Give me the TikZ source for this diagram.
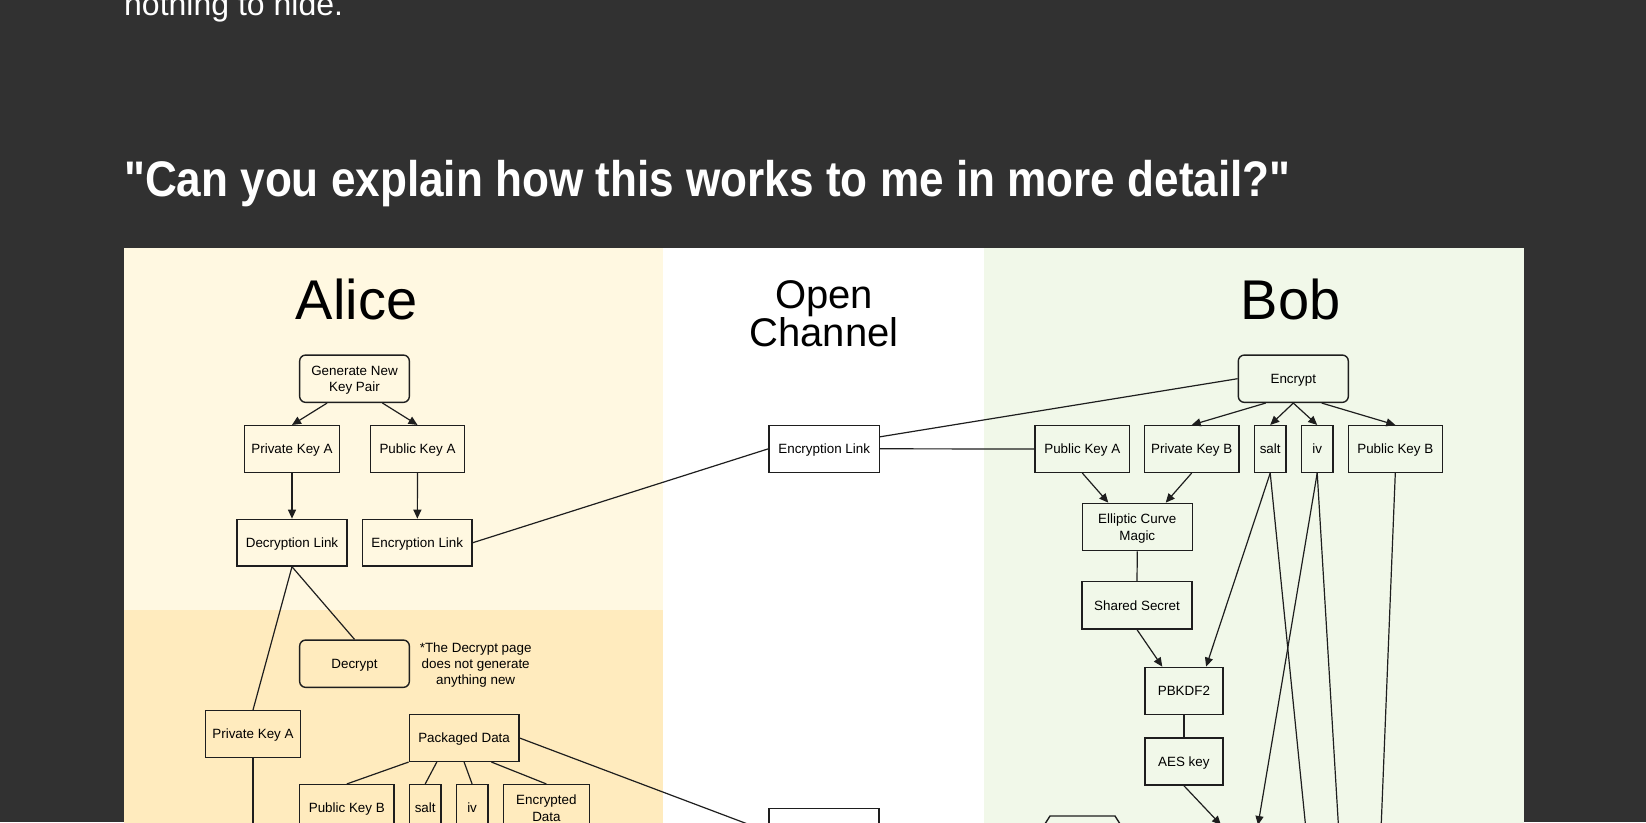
\documentclass[tikz,border=0pt]{standalone}
\usepackage{fontspec}
\setmainfont{Liberation Sans}
\usetikzlibrary{arrows.meta,calc}
\definecolor{bgdark}{HTML}{313131}
\definecolor{alicetop}{HTML}{FFF8E1}
\definecolor{alicebot}{HTML}{FFEBBE}
\definecolor{bobbg}{HTML}{F1F8E9}
\definecolor{ink}{HTML}{1E1E1E}
\begin{document}
\begin{tikzpicture}[x=1pt,y=-1pt,
  box/.style={draw=ink,line width=1.4pt,inner sep=0pt,minimum height=46.7pt,align=center,font=\fontsize{13.4}{16.5}\selectfont,text=black,text height=9.6pt,text depth=0pt},
  multi/.style={text height=26.1pt,text depth=0pt},
  rbox/.style={box,rounded corners=6pt,minimum height=47.3pt},
  conn/.style={draw=ink,line width=1.2pt},
  arr/.style={conn,-{Triangle[length=9pt,width=8pt]}},
  title/.style={anchor=base,inner sep=0pt,font=\fontsize{56}{60}\selectfont,text=black},
  otitle/.style={anchor=base,inner sep=0pt,font=\fontsize{40}{40}\selectfont,text=black},
  note/.style={align=center,inner sep=0pt,font=\fontsize{13.4}{16}\selectfont,text=black}
]
\useasboundingbox (0,0) rectangle (1646,822);
\clip (0,0) rectangle (1646,822);
\fill[bgdark] (0,0) rectangle (1646,822);

% text above
\node[anchor=base west,inner sep=0pt,text=white,font=\fontsize{32}{36}\selectfont] (prev) at (124,15) {nothing to hide.};
\node[anchor=base west,inner sep=0pt,text=white,font=\bfseries\fontsize{50}{56}\selectfont] (heading) at (123.9,196) {\scalebox{0.882}[1]{\textquotedbl Can you explain how this works to me in more detail?\textquotedbl}};

% panels
\fill[alicetop] (123.9,247.5) rectangle (663.3,610);
\fill[alicebot] (123.9,610) rectangle (663.3,840);
\fill[white] (663.3,247.5) rectangle (984.2,840);
\fill[bobbg] (984.2,247.5) rectangle (1524,840);

% titles
\node[title] (alicet) at (356.6,319.3) {Alice};
\node[title] (bobt) at (1290.8,319.3) {Bob};
\node[otitle] (opent) at (824,308.3) {Open};
\node[otitle] (chant) at (824,346) {Channel};

% Alice
\node[rbox,multi,minimum width=109.7pt] (gen) at (354.5,378.7) {Generate New\\Key Pair};
\node[box,minimum width=94.7pt] (privA) at (292,449) {Private Key A};
\node[box,minimum width=94.2pt] (pubA) at (417.5,449) {Public Key A};
\node[box,minimum width=109.7pt] (decl) at (292,542.7) {Decryption Link};
\node[box,minimum width=109.6pt] (encl) at (417.3,542.7) {Encryption Link};
\node[rbox,minimum width=109.7pt] (decrypt) at (354.5,663.7) {Decrypt};
\node[note] (dnote) at (475.7,665) {*The Decrypt page\\does not generate\\anything new};
\node[box,minimum width=94.7pt] (privA2) at (253,734) {Private Key A};
\node[box,minimum width=109.6pt] (pkd) at (464.1,738) {Packaged Data};
\node[box,minimum width=94.3pt] (apkb) at (346.8,808) {Public Key B};
\node[box,minimum width=31.8pt] (asalt) at (425.2,808) {salt};
\node[box,minimum width=31.5pt] (aiv) at (472.1,808) {iv};
\node[box,multi,minimum width=86.4pt] (aencd) at (546.4,808) {Encrypted\\Data};
\coordinate (pkaend) at (253,840);

% Open channel
\node[box,minimum width=110.3pt,minimum height=47pt] (oenc) at (824.2,448.8) {Encryption Link};
\node[box,minimum width=110pt,minimum height=47pt] (obot) at (824,831.8) {};

% Bob
\node[rbox,minimum width=110pt] (encrypt) at (1293.3,378.7) {Encrypt};
\node[box,minimum width=94.7pt] (bpubA) at (1082.3,449) {Public Key A};
\node[box,minimum width=94.7pt] (bprivB) at (1191.7,449) {Private Key B};
\node[box,minimum width=31.7pt] (bsalt) at (1270.2,449) {salt};
\node[box,minimum width=31.7pt] (biv) at (1317.2,449) {iv};
\node[box,minimum width=94pt] (bpubB) at (1395.3,449) {Public Key B};
\node[box,multi,minimum width=110pt,minimum height=47.3pt] (ecm) at (1137.3,527) {Elliptic Curve\\Magic};
\node[box,minimum width=110pt,minimum height=47.3pt] (ss) at (1137,605.3) {Shared Secret};
\node[box,minimum width=78pt,minimum height=47.3pt] (pbk) at (1183.9,691) {PBKDF2};
\node[box,minimum width=78pt,minimum height=47pt] (aes) at (1183.9,761.5) {AES key};
\coordinate (aestip) at (1221,825);
\coordinate (ivtip) at (1258,825);
\coordinate (saltend) at (1307,840);
\coordinate (ivend) at (1339.3,840);
\coordinate (pubbend) at (1380.6,840);
\draw[draw=ink,line width=1.4pt] (1043,827) -- (1050,816) -- (1115,816) -- (1122,827);

% Alice connectors
\draw[arr] ([xshift=-27.4pt]gen.south) -- (privA.north);
\draw[arr] ([xshift=28pt]gen.south) -- (pubA.north);
\draw[arr] (privA) -- (decl);
\draw[arr] (pubA) -- (encl);
\draw[conn] (decl.south) -- (privA2.north);
\draw[conn] (decl.south) -- (decrypt.north);
\draw[conn] (privA2.south) -- (pkaend);
\draw[conn] (pkd.south west) -- (apkb.north);
\draw[conn] ([xshift=-27.3pt]pkd.south) -- (asalt.north);
\draw[conn] (pkd.south) -- (aiv.north);
\draw[conn] ([xshift=27.3pt]pkd.south) -- (aencd.north);
\draw[conn] (pkd.east) -- (obot.west);

% open channel connectors
\draw[conn] (encl.east) -- (oenc.west);
\draw[conn] ([yshift=12pt]oenc.east) -- (encrypt.west);
\draw[conn] (oenc.east) -- (bpubA.west);

% Bob connectors
\draw[arr] ([xshift=-27.6pt]encrypt.south) -- (bprivB.north);
\draw[arr] (encrypt.south) -- (bsalt.north);
\draw[arr] (encrypt.south) -- (biv.north);
\draw[arr] ([xshift=28.4pt]encrypt.south) -- (bpubB.north);
\draw[arr] (bpubA.south) -- ([xshift=-29pt]ecm.north);
\draw[arr] (bprivB.south) -- ([xshift=28.4pt]ecm.north);
\draw[conn] (ecm.south) -- (ss.north);
\draw[arr] (ss.south) -- ([xshift=-21.6pt]pbk.north);
\draw[arr] (bsalt.south) -- ([xshift=22.2pt]pbk.north);
\draw[conn] (pbk.south) -- (aes.north);
\draw[arr] (aes.south) -- (aestip);
\draw[arr] (biv.south) -- (ivtip);
\draw[conn] (bsalt.south) -- (saltend);
\draw[conn] (biv.south) -- (ivend);
\draw[conn] (bpubB.south) -- (pubbend);
\end{tikzpicture}
\end{document}
